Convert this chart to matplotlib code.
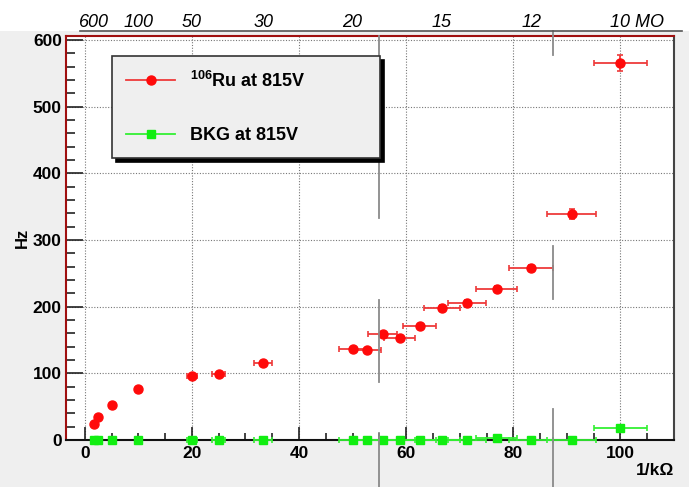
import matplotlib.pyplot as plt
from matplotlib.lines import Line2D
from matplotlib.patches import Rectangle
from matplotlib.ticker import MultipleLocator

plt.rcParams['font.family'] = ['Liberation Sans', 'DejaVu Sans']
plt.rcParams['font.weight'] = 'bold'
plt.rcParams['mathtext.fontset'] = 'custom'
plt.rcParams['mathtext.rm'] = 'Liberation Sans'
plt.rcParams['mathtext.bf'] = 'Liberation Sans:bold'

# x = 1/kOhm (scaled), one point per resistor value
inv_r = [1.67, 2.5, 5, 10, 20, 25, 33.3, 50, 52.6, 55.6, 58.8, 62.5, 66.7, 71.4, 76.9, 83.3, 90.9, 100]
inv_r_err = [0.08, 0.13, 0.25, 0.5, 1.0, 1.25, 1.67, 2.5, 2.63, 2.78, 2.94, 3.13, 3.33, 3.57, 3.85, 4.17, 4.55, 5.0]

ru_hz = [24, 34, 52.5, 77, 96.5, 98.5, 116, 136.5, 135, 159, 153, 170.5, 198, 205.5, 227, 258.5, 339, 566]
ru_err = [1, 1, 2, 2, 3, 3, 3, 3, 3, 3, 3, 3, 4, 4, 4, 4, 8, 12]

bkg_hz = [0.5, 0.5, 0.5, 0.5, 0.5, 0.5, 0.5, 0.5, 0.5, 0.5, 0.5, 0.5, 0.5, 0.5, 3, 0.5, 0.5, 17.5]
bkg_err = [0, 0, 0, 0, 0, 0, 0, 0, 0, 0, 0, 0, 0, 0, 0, 0, 0, 3]

# resistance labels on the top axis (MOhm)
top_res = [600, 100, 50, 30, 20, 15, 12]

W, H = 689, 487
fig = plt.figure(figsize=(W / 100, H / 100), dpi=100, facecolor='#efefef')
ax = fig.add_axes([66 / W, 1 - 440 / H, 608 / W, 404 / H])

# white strip at the top with the line under the resistance labels
fig.patches.append(Rectangle((0, 1 - 31 / H), 1, 31 / H, transform=fig.transFigure,
                             facecolor='white', edgecolor='none', zorder=-5))
fig.lines.append(Line2D([80 / W, 682 / W], [1 - 31 / H, 1 - 31 / H], transform=fig.transFigure,
                        color='#555555', lw=1.2))

ru = ax.errorbar(inv_r, ru_hz, xerr=inv_r_err, yerr=ru_err, fmt='o', color='#ff0a0a',
                 ecolor='#ee3a3a', elinewidth=1.3, capsize=2.5, capthick=1.2, ms=6.5, zorder=3)
bkg = ax.errorbar(inv_r, bkg_hz, xerr=inv_r_err, yerr=bkg_err, fmt='s', color='#11ee11',
                  ecolor='#33f033', elinewidth=1.3, capsize=2.5, capthick=1.2, ms=6, zorder=3)
for cont in (ru, bkg):
    for art in cont.get_children():
        art.set_clip_on(False)

ax.set_xlim(-3.5, 110)
ax.set_ylim(0, 606)
ax.xaxis.set_major_locator(MultipleLocator(20))
ax.xaxis.set_minor_locator(MultipleLocator(5))
ax.yaxis.set_major_locator(MultipleLocator(100))
ax.yaxis.set_minor_locator(MultipleLocator(20))
ax.grid(True, which='major', linestyle=(0, (1, 1.5)), color='#777777', lw=0.8)
ax.set_axisbelow(True)

ax.tick_params(axis='both', which='both', direction='in', top=False, right=False,
               color='#222222', width=1.2, labelsize=12.5)
ax.tick_params(axis='y', which='major', length=12, pad=3)
ax.tick_params(axis='y', which='minor', length=6.5)
ax.tick_params(axis='x', which='major', length=9.5, pad=4.5)
ax.tick_params(axis='x', which='minor', length=5)

ax.spines['left'].set_color('#a01010')
ax.spines['top'].set_color('#a01010')
ax.spines['bottom'].set_color('#111111')
ax.spines['right'].set_color('#444444')
for s in ax.spines.values():
    s.set_linewidth(1.5)

ax.set_ylabel('Hz', fontsize=12, fontweight='bold', labelpad=2)
ax.set_xlabel('1/k\u03a9', fontsize=12.5, fontweight='bold', loc='right', labelpad=1)

# resistance scale along the top
for r in top_res:
    ax.text(1000 / r, 1.022, str(r), transform=ax.get_xaxis_transform(), ha='center',
            va='baseline', fontsize=13, style='italic', fontweight='normal')
ax.annotate('10 MO', xy=(100, 1.022), xycoords=ax.get_xaxis_transform(), xytext=(-7.5, 0),
            textcoords='offset points', ha='left', va='baseline', fontsize=13,
            style='italic', fontweight='normal', annotation_clip=False)

# stray vertical rules in the original picture
for xp, segs in [(379, [(36, 218), (300, 382), (433, 487)]),
                 (553, [(31, 55), (246, 299), (409, 487)])]:
    for y0, y1 in segs:
        ax.add_line(Line2D([xp / W, xp / W], [1 - y0 / H, 1 - y1 / H], transform=fig.transFigure,
                           color='#8a8a8a', lw=1.3, clip_on=False, zorder=4))

handles = [Line2D([], [], color='#ee3a3a', lw=1.3, marker='o', ms=6.5, mfc='#ff0a0a', mec='#ff0a0a'),
           Line2D([], [], color='#33f033', lw=1.3, marker='s', ms=6, mfc='#11ee11', mec='#11ee11')]
labels = [r'$^{\mathbf{106}}$Ru at 815V', 'BKG at 815V']
leg = ax.legend(handles, labels, loc='upper left', mode='expand',
                bbox_to_anchor=(0.0757, 0.698, 0.4408, 0.252), borderaxespad=0,
                frameon=True, fancybox=False, framealpha=1, facecolor='#efefef',
                edgecolor='#333333', prop={'weight': 'bold', 'size': 13},
                borderpad=0.8, labelspacing=2.0, handlelength=2.7, handletextpad=0.8,
                shadow={'ox': 3, 'oy': -3, 'facecolor': 'black', 'edgecolor': 'black', 'alpha': 1})
leg.get_frame().set_linewidth(1.2)

fig.savefig('out.png', dpi=100, facecolor=fig.get_facecolor())
